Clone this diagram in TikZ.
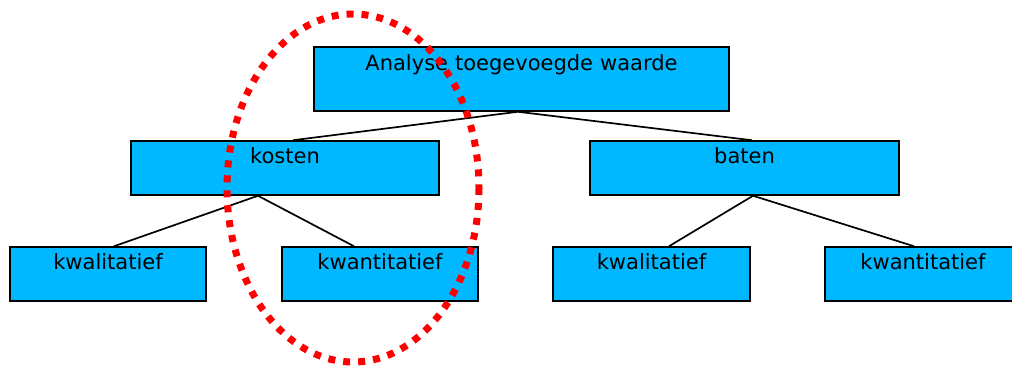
\documentclass[tikz,border=0pt]{standalone}
\usepackage{fontspec}
\setmainfont{DejaVu Sans}
\definecolor{boxblue}{RGB}{0,184,255}
\definecolor{ringred}{RGB}{255,0,0}
\tikzset{
  box/.style={draw=black, line width=1.5pt, fill=boxblue, rectangle, inner sep=0pt,
    align=center, font=\fontsize{21}{24}\selectfont,
    text height=22pt, text depth=32pt},
  topbox/.style={box, text height=23pt, text depth=41pt},
  link/.style={draw=black, line width=1.7pt},
  ring/.style={draw=ringred, line width=7pt, dash pattern=on 7pt off 8pt}
}
\begin{document}
\begin{tikzpicture}[x=1pt, y=-1pt]
  \clip (0,0) rectangle (1012,365);
  % tree of boxes
  \node[topbox, text width=415pt] (root) at (521.5,79) {Analyse toegevoegde waarde};
  \node[box, text width=308pt] (kosten) at (285,168) {kosten};
  \node[box, text width=309pt] (baten) at (744.5,168) {baten};
  \node[box, text width=196pt] (kwal1) at (108,274) {kwalitatief};
  \node[box, text width=196pt] (kwan1) at (380,274) {kwantitatief};
  \node[box, text width=197pt] (kwal2) at (651.5,274) {kwalitatief};
  \node[box, text width=196pt] (kwan2) at (923,274) {kwantitatief};
  % connectors
  \draw[link] ([xshift=-3.5pt]root.south) -- ([xshift=8pt]kosten.north);
  \draw[link] ([xshift=-3.5pt]root.south) -- ([xshift=7.5pt]baten.north);
  \draw[link] ([xshift=-27pt]kosten.south) -- ([xshift=6pt]kwal1.north);
  \draw[link] ([xshift=-27pt]kosten.south) -- ([xshift=-26pt]kwan1.north);
  \draw[link] ([xshift=8.5pt]baten.south) -- ([xshift=17.5pt]kwal2.north);
  \draw[link] ([xshift=8.5pt]baten.south) -- ([xshift=-9pt]kwan2.north);
  % dotted ring around the cost branch
  \coordinate (ringc) at (353,188);
  \draw[ring] (ringc) ellipse [x radius=126, y radius=174];
\end{tikzpicture}
\end{document}
